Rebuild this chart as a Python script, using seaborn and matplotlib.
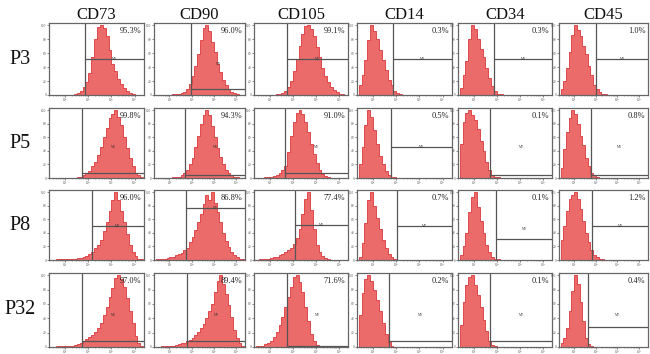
import numpy as np
import pandas as pd
import matplotlib
matplotlib.use("Agg")
import matplotlib.pyplot as plt
import seaborn as sns

sns.set_theme(style="white")
plt.rcParams["font.family"] = ["Liberation Serif", "DejaVu Serif"]

# ---------------- data ----------------
passages = ["P3", "P5", "P8", "P32"]
markers = ["CD73", "CD90", "CD105", "CD14", "CD34", "CD45"]

percents = [
    ["95.3%", "96.0%", "99.1%", "0.3%", "0.3%", "1.0%"],
    ["99.8%", "94.3%", "91.0%", "0.5%", "0.1%", "0.8%"],
    ["96.0%", "86.8%", "77.4%", "0.7%", "0.1%", "1.2%"],
    ["97.0%", "89.4%", "71.6%", "0.2%", "0.1%", "0.4%"],
]

# gate (marker M2) start on the log axis (decades) and height of its bar (% of peak)
gate_x = [
    [1.87, 1.97, 1.76, 1.85, 1.88, 2.01],
    [1.73, 1.69, 1.67, 1.75, 1.72, 1.80],
    [2.15, 1.75, 2.11, 2.02, 1.96, 1.84],
    [1.74, 1.80, 1.76, 1.68, 1.71, 1.62],
]
gate_y = [
    [51, 9, 51, 51, 51, 51],
    [7, 5, 7, 45, 4, 5],
    [50, 76, 51, 50, 31, 50],
    [9, 9, 2, 8, 8, 28],
]

# histogram: first bin index (bins of 0.125 decade from 10^0.375) and bin heights (% of peak)
p3_start = [8, 6, 7, 0, 0, 0]
p3_heights = [
    [1, 3, 6, 11, 19, 32, 55, 80, 97, 100, 96, 84, 64, 45, 34, 23, 16, 10, 6, 3, 1],
    [1, 1, 2, 3, 5, 9, 16, 27, 42, 58, 78, 96, 100, 92, 76, 62, 45, 33, 22, 14, 8, 5, 3, 1],
    [1, 2, 3, 6, 11, 20, 35, 51, 70, 87, 98, 100, 94, 84, 69, 54, 39, 27, 19, 12, 7, 4, 2, 1],
    [15, 28, 50, 78, 100, 92, 80, 65, 50, 36, 22, 14, 6, 3, 1],
    [10, 28, 48, 80, 100, 94, 80, 66, 54, 38, 25, 13, 6, 2, 1],
    [8, 20, 38, 62, 86, 100, 93, 84, 70, 58, 42, 28, 15, 8, 4, 2, 1],
]
p5_start = [9, 6, 3, 0, 0, 0]
p5_heights = [
    [1, 2, 4, 7, 11, 17, 24, 34, 46, 60, 74, 88, 94, 100, 90, 78, 60, 44, 30, 17, 8, 4, 2],
    [1, 1, 2, 4, 7, 12, 20, 30, 46, 62, 80, 92, 100, 92, 76, 60, 44, 31, 20, 12, 7, 4, 2, 1],
    [1, 1, 2, 3, 4, 7, 12, 18, 38, 62, 82, 96, 100, 94, 82, 68, 50, 35, 22, 12, 6, 3, 1],
    [20, 45, 78, 100, 90, 70, 50, 32, 20, 10, 5, 2, 1],
    [50, 82, 96, 100, 92, 86, 72, 55, 40, 24, 12, 5, 2, 1],
    [15, 42, 68, 88, 100, 94, 80, 62, 48, 30, 18, 8, 4, 1],
]
p8_start = [2, 0, 1, 0, 0, 0]
p8_heights = [
    [1, 1, 1, 1, 1, 2, 2, 3, 3, 4, 6, 9, 12, 17, 22, 30, 42, 56, 72, 88, 100, 88, 72, 56, 38, 22, 12, 6, 2, 1],
    [1, 1, 2, 2, 3, 4, 5, 7, 9, 11, 14, 18, 26, 34, 44, 56, 68, 82, 96, 88, 100, 84, 70, 56, 40, 28, 19, 12, 7, 4, 2, 1],
    [1, 1, 1, 2, 3, 4, 5, 7, 9, 12, 14, 18, 24, 32, 45, 68, 90, 100, 74, 45, 22, 12, 6, 3, 1],
    [5, 25, 55, 88, 100, 80, 62, 45, 30, 18, 9, 4, 1],
    [8, 20, 40, 70, 92, 100, 78, 58, 40, 22, 12, 5, 2, 1],
    [30, 50, 72, 90, 96, 100, 90, 75, 58, 40, 26, 14, 7, 4, 2, 1],
]
p32_start = [2, 2, 0, 0, 0, 0]
p32_heights = [
    [1, 1, 1, 1, 2, 2, 3, 4, 6, 8, 11, 14, 17, 21, 26, 34, 45, 56, 70, 82, 96, 100, 94, 84, 68, 50, 34, 16, 5, 2],
    [1, 1, 1, 2, 2, 3, 4, 5, 6, 8, 10, 13, 17, 21, 26, 32, 40, 50, 60, 76, 92, 100, 88, 74, 58, 42, 24, 12, 5, 1],
    [1, 1, 2, 4, 6, 9, 14, 21, 30, 42, 55, 70, 84, 98, 100, 90, 76, 56, 36, 18, 8, 3, 1],
    [45, 75, 94, 100, 92, 80, 66, 50, 34, 18, 7, 2],
    [30, 62, 86, 98, 100, 86, 72, 55, 38, 22, 8, 3, 1],
    [5, 12, 26, 50, 78, 100, 88, 62, 36, 12, 4, 1],
]

all_start = [p3_start, p5_start, p8_start, p32_start]
all_heights = [p3_heights, p5_heights, p8_heights, p32_heights]

# ---------------- layout ----------------
W, H = 650, 354
col_px = [(49, 144), (154, 245), (254, 348), (357, 452), (458, 552), (559, 648)]
row_px = [(23, 95), (108, 178), (190, 260), (273, 347)]

BIN0, BW, NB = 0.375, 0.125, 32
XLIM = (0.33, 4.41)
YTOP = 103

fill_c = "#ea5e5e"
edge_c = "#d81e22"
gate_c = "#555555"

fig = plt.figure(figsize=(W / 100, H / 100), dpi=100)

rows = []
for r, p in enumerate(passages):
    for c, m in enumerate(markers):
        s = all_start[r][c]
        for i, h in enumerate(all_heights[r][c]):
            rows.append({"passage": p, "marker": m,
                         "x": BIN0 + (s + i + 0.5) * BW, "h": float(h)})
df = pd.DataFrame(rows)

for r, p in enumerate(passages):
    for c, m in enumerate(markers):
        x0, x1 = col_px[c]
        y0, y1 = row_px[r]
        ax = fig.add_axes([x0 / W, 1 - y1 / H, (x1 - x0) / W, (y1 - y0) / H])
        sub = df[(df.passage == p) & (df.marker == m)].reset_index(drop=True)
        sns.histplot(data=sub, x="x", weights="h", binwidth=BW,
                     binrange=(BIN0, BIN0 + NB * BW), element="step",
                     fill=True, color=fill_c, edgecolor=edge_c, linewidth=0.5,
                     alpha=0.92, ax=ax)
        ax.set_xlim(*XLIM)
        ax.set_ylim(0, YTOP)
        ax.set_xlabel("")
        ax.set_ylabel("")
        gx, gy = gate_x[r][c], gate_y[r][c]
        ax.axvline(gx, color=gate_c, lw=0.9)
        ax.plot([gx, XLIM[1]], [gy, gy], color=gate_c, lw=0.9)
        ax.text(gx + (XLIM[1] - gx) * 0.5, max(gy, 45), "M2", fontsize=2.5,
                ha="center", va="center", color="#333333")
        ax.text(0.97, 0.89, percents[r][c], transform=ax.transAxes,
                ha="right", va="center", fontsize=6, color="#222222")
        ax.set_xticks([1, 2, 3, 4])
        ax.set_xticklabels(["10¹", "10²", "10³", "10⁴"], fontsize=2.5)
        ax.set_xticks(np.log10(np.concatenate([np.arange(2, 10) * 10.0 ** k for k in range(0, 4)])), minor=True)
        ax.set_yticks([0, 20, 40, 60, 80, 100])
        ax.set_yticklabels(["0", "20", "40", "60", "80", "100"], fontsize=2.5)
        ax.tick_params(axis="both", which="major", length=1.5, width=0.5, pad=0.5,
                       bottom=True, left=True, colors="#555555")
        ax.tick_params(axis="x", which="minor", length=0.8, width=0.4, bottom=True,
                       colors="#777777")
        for sp in ax.spines.values():
            sp.set_color("#666666")
            sp.set_linewidth(0.9)
        if r == 0:
            ax.set_title(m, fontsize=12, pad=1.5, color="#111111")
        if c == 0:
            fig.text(20 / W, 1 - (y0 + y1) / 2 / H, p, fontsize=14.5,
                     ha="center", va="center", color="#111111")

fig.savefig("out.png", dpi=100)
